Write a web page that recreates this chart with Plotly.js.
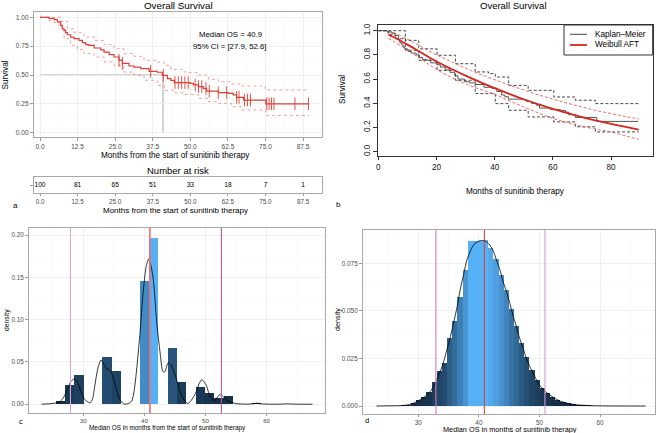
<!DOCTYPE html>
<html><head><meta charset="utf-8">
<script src="https://cdn.plot.ly/plotly-3.0.1.min.js"></script>
<style>html,body{margin:0;padding:0;background:#fff}#chart{width:658px;height:433px}</style>
</head><body><div id="chart"></div>
<script>
// ---------- Panel a: Kaplan-Meier ----------
const kmTime = [0, 3.0, 4.7, 5.8, 6.9, 7.4, 8.0, 8.5, 9.1, 10.2, 11.3, 13.0, 14.1, 15.2, 16.3, 18.0, 20.2, 21.3, 23.0, 24.6, 26.3, 27.4, 29.6, 31.3, 33.5, 36.3, 39.0, 40.7, 42.4, 43.5, 44.7, 49.9, 51.0, 52.7, 54.3, 55.4, 59.3, 62.6, 64.3, 65.4, 67.7, 75.1, 89.3];
const kmSurv = [1.0, 0.99, 0.98, 0.96, 0.93, 0.90, 0.887, 0.867, 0.849, 0.829, 0.815, 0.800, 0.780, 0.763, 0.757, 0.734, 0.718, 0.699, 0.676, 0.656, 0.627, 0.600, 0.578, 0.569, 0.555, 0.532, 0.524, 0.497, 0.468, 0.454, 0.434, 0.428, 0.414, 0.399, 0.384, 0.360, 0.347, 0.341, 0.327, 0.306, 0.283, 0.250, 0.250];
const censorTimes = [26.3, 27.4, 36.8, 41.0, 44.9, 46.0, 47.1, 48.2, 49.3, 51.6, 52.7, 53.8, 55.2, 56.3, 59.3, 62.1, 65.4, 66.2, 68.0, 69.0, 70.0, 75.4, 76.2, 77.0, 77.8, 84.8, 89.3];
const ciUpTime = [0, 4.7, 6.9, 9.1, 11.3, 14.6, 18.0, 21.3, 24.6, 27.9, 31.3, 34.6, 39.0, 41.3, 43.5, 47.9, 49.3, 52.7, 56.0, 59.3, 63.7, 67.1, 74.9, 89.3];
const ciUp = [1.0, 1.0, 0.965, 0.901, 0.867, 0.829, 0.800, 0.763, 0.728, 0.685, 0.662, 0.627, 0.612, 0.584, 0.549, 0.526, 0.520, 0.500, 0.462, 0.442, 0.422, 0.405, 0.370, 0.370];
const ciLoTime = [0, 3.0, 4.7, 6.3, 8.0, 10.2, 12.4, 14.6, 18.0, 21.3, 24.6, 27.9, 31.3, 34.6, 39.0, 41.3, 44.6, 47.9, 52.7, 56.0, 59.3, 63.7, 67.1, 75.1, 89.3];
const ciLo = [1.0, 0.97, 0.955, 0.916, 0.815, 0.757, 0.722, 0.685, 0.656, 0.613, 0.584, 0.526, 0.497, 0.454, 0.410, 0.367, 0.345, 0.330, 0.298, 0.269, 0.255, 0.226, 0.197, 0.150, 0.145];
const medianOS = 40.9;
const ciText = "95% CI = [27.9, 52.6]";
const aXTicks = [0, 12.5, 25, 37.5, 50, 62.5, 75, 87.5];
const aXTickText = ["0.0", "12.5", "25.0", "37.5", "50.0", "62.5", "75.0", "87.5"];
const aYTicks = [0, 0.25, 0.5, 0.75, 1];
const aYTickText = ["0.00", "0.25", "0.50", "0.75", "1.00"];
const riskTimes = [0, 12.5, 25, 37.5, 50, 62.5, 75, 87.5];
const riskCounts = [100, 81, 65, 51, 33, 18, 7, 1];

// ---------- Panel b: KM vs Weibull AFT ----------
const bUpTime = [0, 5.8, 9.3, 13.9, 20.2, 26.5, 33.3, 37.9, 40.2, 44.8, 51.5, 60.3, 67.7, 74.6, 89.5];
const bUp = [1.0, 1.0, 0.92, 0.85, 0.797, 0.727, 0.659, 0.645, 0.617, 0.548, 0.507, 0.452, 0.425, 0.397, 0.397];
const bLoTime = [0, 3.4, 5.8, 9.3, 13.9, 20.2, 26.5, 33.3, 40.2, 44.8, 51.5, 60.3, 67.7, 74.6, 89.5];
const bLo = [1.0, 0.97, 0.934, 0.838, 0.755, 0.672, 0.59, 0.48, 0.397, 0.342, 0.287, 0.246, 0.205, 0.163, 0.163];
const wTime = [3.5, 5, 10, 15, 20, 25, 30, 35, 40, 45, 50, 55, 60, 65, 70, 75, 80, 85, 89.5];
const wSurv = [0.965, 0.950, 0.885, 0.815, 0.745, 0.685, 0.628, 0.575, 0.525, 0.478, 0.433, 0.392, 0.353, 0.318, 0.285, 0.256, 0.229, 0.204, 0.182];
const wUp = [0.99, 0.985, 0.93, 0.865, 0.80, 0.745, 0.69, 0.64, 0.595, 0.55, 0.51, 0.47, 0.435, 0.40, 0.37, 0.34, 0.315, 0.29, 0.27];
const wLo = [0.935, 0.915, 0.84, 0.76, 0.68, 0.615, 0.56, 0.515, 0.475, 0.42, 0.37, 0.32, 0.275, 0.24, 0.21, 0.185, 0.163, 0.13, 0.102];
const bXTicks = [0, 20, 40, 60, 80];
const bXTickText = ["0", "20", "40", "60", "80"];
const bYTicks = [0, 0.2, 0.4, 0.6, 0.8, 1.0];
const bYTickText = ["0.0", "0.2", "0.4", "0.6", "0.8", "1.0"];

// ---------- Panel c: bootstrap medians (KM) ----------
const cBinMid = [23.18, 24.71, 26.24, 27.76, 29.29, 33.88, 35.41, 39.99, 41.52, 44.58, 46.10, 49.16, 50.69, 52.22, 53.75, 58.33, 62.92, 67.50];
const cDensity = [0.0005, 0.0008, 0.0043, 0.0224, 0.0346, 0.0555, 0.0398, 0.1453, 0.1970, 0.0665, 0.0260, 0.0205, 0.0134, 0.0075, 0.0094, 0.0012, 0.0006, 0.0004];
const cBinWidth = 1.528;
const cCurveX = [23.2, 24.5, 25.5, 26.2, 27.0, 27.5, 28.0, 28.5, 29.0, 29.6, 30.2, 30.6, 31.1, 31.5, 31.9, 32.4, 32.9, 33.4, 33.8, 34.4, 34.8, 35.2, 35.6, 36.0, 36.6, 37.3, 37.9, 38.3, 38.7, 39.3, 39.8, 40.3, 40.7, 41.1, 41.5, 42.0, 42.6, 43.0, 43.3, 43.9, 44.3, 44.7, 45.1, 45.5, 45.9, 46.3, 47.1, 47.8, 48.5, 49.0, 49.4, 50.1, 50.5, 50.9, 51.5, 51.9, 52.3, 52.7, 53.1, 53.9, 55.0, 56.5, 57.7, 58.4, 59.2, 60.5, 62.5, 63.3, 64.2, 66.0, 67.5];
const cCurveY = [0.0001, 0.0006, 0.0015, 0.003, 0.011, 0.020, 0.027, 0.030, 0.027, 0.015, 0.006, 0.0035, 0.0016, 0.006, 0.023, 0.043, 0.0524, 0.047, 0.042, 0.040, 0.034, 0.023, 0.013, 0.0055, 0.0004, 0.0006, 0.0035, 0.015, 0.039, 0.086, 0.133, 0.163, 0.1717, 0.163, 0.145, 0.098, 0.059, 0.039, 0.038, 0.049, 0.047, 0.041, 0.033, 0.023, 0.014, 0.0075, 0.0008, 0.006, 0.015, 0.025, 0.029, 0.023, 0.014, 0.0075, 0.0043, 0.008, 0.0114, 0.0105, 0.0075, 0.0035, 0.0008, 0.0002, 0.0005, 0.0012, 0.0004, 0.0001, 0.0002, 0.0006, 0.0002, 0.0001, 0];
const cLines = [27.9, 40.9, 52.6];
const cXTicks = [30, 40, 50, 60];
const cYTicks = [0, 0.05, 0.10, 0.15, 0.20];
const cYTickText = ["0.00", "0.05", "0.10", "0.15", "0.20"];

// ---------- Panel d: bootstrap medians (Weibull) ----------
const dBinMid = [23.27, 24.12, 24.97, 25.82, 26.67, 27.52, 28.37, 29.22, 30.07, 30.92, 31.77, 32.62, 33.47, 34.32, 35.17, 36.02, 36.87, 37.72, 38.57, 39.42, 40.27, 41.12, 41.97, 42.82, 43.67, 44.52, 45.37, 46.22, 47.07, 47.92, 48.77, 49.62, 50.47, 51.32, 52.17, 53.02, 53.87, 54.72, 55.57, 56.42, 57.27, 58.12, 58.97, 59.82, 60.67, 61.52, 62.37, 63.22, 64.07, 64.92, 65.77, 66.62, 67.47];
const dDensity = [0.00002, 0.00003, 0.00006, 0.0001, 0.0002, 0.0003, 0.0007, 0.0016, 0.0030, 0.0046, 0.0072, 0.0125, 0.0186, 0.0228, 0.0357, 0.0445, 0.0575, 0.0715, 0.0866, 0.0866, 0.0868, 0.0874, 0.0830, 0.0775, 0.0690, 0.0610, 0.0508, 0.0420, 0.0330, 0.0255, 0.0190, 0.0138, 0.0095, 0.0068, 0.0048, 0.0033, 0.0022, 0.0015, 0.0010, 0.0006, 0.0004, 0.0003, 0.0002, 0.00012, 0.00008, 0.00005, 0.00003, 0.00002, 0.00001, 0.00001, 0.00001, 0.00001, 0.00001];
const dBinWidth = 0.85;
const dCurveX = [23.1, 25.0, 27.0, 28.1, 29.0, 29.7, 30.5, 31.4, 32.0, 32.5, 33.0, 33.6, 34.2, 34.7, 35.3, 35.8, 36.4, 36.9, 37.5, 38.0, 38.6, 39.1, 39.7, 40.2, 40.6, 41.0, 41.4, 41.8, 42.4, 42.9, 43.5, 44.0, 44.6, 45.1, 45.6, 46.2, 46.7, 47.3, 47.8, 48.4, 49.0, 49.5, 50.0, 50.6, 51.1, 51.7, 52.5, 53.4, 54.2, 55.0, 56.0, 57.2, 58.5, 60.0, 62.0, 64.0, 67.5];
const dCurveY = [0, 0.0001, 0.0002, 0.0005, 0.0012, 0.0023, 0.0037, 0.0058, 0.0078, 0.0102, 0.0135, 0.018, 0.0235, 0.0294, 0.0365, 0.0434, 0.052, 0.061, 0.0695, 0.0767, 0.0815, 0.0846, 0.0862, 0.0869, 0.0870, 0.0867, 0.0859, 0.0846, 0.0812, 0.0767, 0.0712, 0.0653, 0.0595, 0.054, 0.0478, 0.0417, 0.0358, 0.0303, 0.0253, 0.0207, 0.0170, 0.0137, 0.0110, 0.0089, 0.0072, 0.0058, 0.0041, 0.0026, 0.0018, 0.0012, 0.0007, 0.0004, 0.0002, 0.0001, 0.00003, 0.00001, 0];
const dLines = [32.9, 40.9, 50.9];
const dXTicks = [30, 40, 50, 60];
const dYTicks = [0, 0.025, 0.05, 0.075];
const dYTickText = ["0.000", "0.025", "0.050", "0.075"];

// ---------- helpers ----------
const W = 658, H = 433;
const px = v => v / W;
const py = v => 1 - v / H;
const FONT = "Liberation Sans, Arial, Helvetica, sans-serif";

function hex2rgb(h){return [parseInt(h.slice(1,3),16),parseInt(h.slice(3,5),16),parseInt(h.slice(5,7),16)];}
function rgb2lab(c){
  const f=v=>{v/=255;return v<=0.04045?v/12.92:Math.pow((v+0.055)/1.055,2.4);};
  const R=f(c[0]),G=f(c[1]),B=f(c[2]);
  const X=(0.4124*R+0.3576*G+0.1805*B)/0.95047, Y=0.2126*R+0.7152*G+0.0722*B, Z=(0.0193*R+0.1192*G+0.9505*B)/1.08883;
  const g=t=>t>0.008856?Math.cbrt(t):7.787*t+16/116;
  const fx=g(X),fy=g(Y),fz=g(Z);
  return [116*fy-16,500*(fx-fy),200*(fy-fz)];
}
function lab2rgb(l){
  const fy=(l[0]+16)/116, fx=fy+l[1]/500, fz=fy-l[2]/200;
  const gi=t=>{const t3=t*t*t;return t3>0.008856?t3:(t-16/116)/7.787;};
  const X=gi(fx)*0.95047,Y=gi(fy),Z=gi(fz)*1.08883;
  const R=3.2406*X-1.5372*Y-0.4986*Z, G=-0.9689*X+1.8758*Y+0.0415*Z, B=0.0557*X-0.2040*Y+1.0570*Z;
  const f=v=>{v=v<=0.0031308?12.92*v:1.055*Math.pow(v,1/2.4)-0.055;return Math.round(Math.max(0,Math.min(1,v))*255);};
  return 'rgb('+f(R)+','+f(G)+','+f(B)+')';
}
const LOW = rgb2lab(hex2rgb('#132B43')), HIGH = rgb2lab(hex2rgb('#56B1F7'));
function grad(t){return lab2rgb([0,1,2].map(i=>LOW[i]+(HIGH[i]-LOW[i])*t));}
function fillColors(vals){const m=Math.max(...vals);return vals.map(v=>grad(v/m));}
function stepAt(t){let s=kmSurv[0];for(let i=0;i<kmTime.length;i++){if(kmTime[i]<=t)s=kmSurv[i];}return s;}

const KMRED = '#E03E36';
const traces = [];
// a
traces.push({x:ciUpTime,y:ciUp,xaxis:'x',yaxis:'y',mode:'lines',line:{color:'#EE8A84',width:0.8,dash:'dot',shape:'hv'},showlegend:false,hoverinfo:'skip'});
traces.push({x:ciLoTime,y:ciLo,xaxis:'x',yaxis:'y',mode:'lines',line:{color:'#EE8A84',width:0.8,dash:'dot',shape:'hv'},showlegend:false,hoverinfo:'skip'});
traces.push({x:kmTime,y:kmSurv,xaxis:'x',yaxis:'y',mode:'lines',line:{color:KMRED,width:1.2,shape:'hv'},showlegend:false});
traces.push({x:censorTimes,y:censorTimes.map(stepAt),xaxis:'x',yaxis:'y',mode:'markers',marker:{symbol:'line-ns-open',size:9,color:KMRED,line:{color:KMRED,width:0.9}},showlegend:false});
// risk table
traces.push({x:riskTimes,y:riskTimes.map(()=>0.5),text:riskCounts.map(String),xaxis:'x2',yaxis:'y2',mode:'text',textfont:{size:6.6,color:'#000',family:FONT},showlegend:false});
// b
traces.push({x:bUpTime,y:bUp,xaxis:'x3',yaxis:'y3',mode:'lines',line:{color:'#333',width:0.9,dash:'3px,2px',shape:'hv'},showlegend:false});
traces.push({x:bLoTime,y:bLo,xaxis:'x3',yaxis:'y3',mode:'lines',line:{color:'#333',width:0.9,dash:'3px,2px',shape:'hv'},showlegend:false});
traces.push({x:kmTime,y:kmSurv,xaxis:'x3',yaxis:'y3',mode:'lines',line:{color:'#444',width:0.9,shape:'hv'},showlegend:false});
traces.push({x:wTime,y:wUp,xaxis:'x3',yaxis:'y3',mode:'lines',line:{color:'#EA5A55',width:0.9,dash:'3px,2px',shape:'spline'},showlegend:false});
traces.push({x:wTime,y:wLo,xaxis:'x3',yaxis:'y3',mode:'lines',line:{color:'#EA5A55',width:0.9,dash:'3px,2px',shape:'spline'},showlegend:false});
traces.push({x:wTime,y:wSurv,xaxis:'x3',yaxis:'y3',mode:'lines',line:{color:'#D7261E',width:1.8,shape:'spline'},showlegend:false});
// c
traces.push({type:'bar',x:cBinMid,y:cDensity,width:cBinWidth,xaxis:'x4',yaxis:'y4',marker:{color:fillColors(cDensity),line:{width:0}},showlegend:false});
traces.push({x:cCurveX,y:cCurveY,xaxis:'x4',yaxis:'y4',mode:'lines',line:{color:'#000',width:0.8,shape:'spline',smoothing:0.7},showlegend:false});
// d
traces.push({type:'bar',x:dBinMid,y:dDensity,width:dBinWidth,xaxis:'x5',yaxis:'y5',marker:{color:fillColors(dDensity),line:{width:0}},showlegend:false});
traces.push({x:dCurveX,y:dCurveY,xaxis:'x5',yaxis:'y5',mode:'lines',line:{color:'#000',width:0.8,shape:'spline',smoothing:0.7},showlegend:false});

const GRID='#EBEBEB', MINOR='#F5F5F5';
function ggAxis(o){
  return Object.assign({showline:true,mirror:true,zeroline:false,automargin:false,ticks:'outside',ticklen:3,
    tickcolor:'#9A9A9A',linecolor:'#A8A8A8',linewidth:1,showgrid:true,gridcolor:GRID,gridwidth:0.7,
    tickfont:{size:6.6,color:'#4D4D4D',family:FONT},tickmode:'array',fixedrange:true},o);
}
const layout = {
  width:W,height:H,margin:{l:0,r:0,t:0,b:0},paper_bgcolor:'#fff',plot_bgcolor:'rgba(0,0,0,0)',
  font:{family:FONT,color:'#000'},showlegend:false,bargap:0,
  xaxis:ggAxis({domain:[px(34),px(322)],range:[-2.0,93.8],anchor:'y',tickvals:aXTicks,ticktext:aXTickText,
    minor:{tickmode:'linear',tick0:0,dtick:6.25,showgrid:true,gridcolor:MINOR,gridwidth:0.5}}),
  yaxis:ggAxis({domain:[py(137.3),py(12)],range:[-0.04,1.046],anchor:'x',tickvals:aYTicks,ticktext:aYTickText,
    minor:{tickmode:'linear',tick0:0,dtick:0.125,showgrid:true,gridcolor:MINOR,gridwidth:0.5}}),
  xaxis2:ggAxis({domain:[px(34),px(322)],range:[-2.0,93.8],anchor:'y2',tickvals:aXTicks,ticktext:aXTickText,gridcolor:'#F2F2F2',
    ticklen:2,tickfont:{size:6.3,color:'#4D4D4D',family:FONT}}),
  yaxis2:ggAxis({domain:[py(193),py(177)],range:[0,1],anchor:'x2',tickvals:[0.5],ticktext:[''],showgrid:false}),
  xaxis3:{domain:[px(378.3),px(652.7)],range:[0,94.3],anchor:'y3',tickmode:'array',tickvals:bXTicks,ticktext:bXTickText,
    showline:true,mirror:true,linecolor:'#333',linewidth:1,ticks:'outside',ticklen:3,tickcolor:'#333',showgrid:false,zeroline:false,automargin:false,
    tickfont:{size:8.2,color:'#111',family:FONT},fixedrange:true},
  yaxis3:{domain:[py(156),py(25)],range:[-0.036,1.047],anchor:'x3',tickmode:'array',tickvals:bYTicks,ticktext:bYTickText,tickangle:-90,
    showline:true,mirror:true,linecolor:'#333',linewidth:1,ticks:'outside',ticklen:4,tickcolor:'#333',showgrid:false,zeroline:false,automargin:false,
    tickfont:{size:8.2,color:'#111',family:FONT},fixedrange:true},
  xaxis4:ggAxis({domain:[px(29),px(325)],range:[21.11,69.56],anchor:'y4',tickvals:cXTicks,ticktext:cXTicks.map(String),
    ticklen:2,tickfont:{size:6.2,color:'#4D4D4D',family:FONT},
    minor:{tickmode:'linear',tick0:0,dtick:5,showgrid:true,gridcolor:MINOR,gridwidth:0.5}}),
  yaxis4:ggAxis({domain:[py(413),py(228)],range:[-0.0103,0.2083],anchor:'x4',tickvals:cYTicks,ticktext:cYTickText,
    tickfont:{size:6.3,color:'#4D4D4D',family:FONT},
    minor:{tickmode:'linear',tick0:0,dtick:0.025,showgrid:true,gridcolor:MINOR,gridwidth:0.5}}),
  xaxis5:ggAxis({domain:[px(363),px(655)],range:[20.87,69.06],anchor:'y5',tickvals:dXTicks,ticktext:dXTicks.map(String),
    ticklen:2,tickfont:{size:6.4,color:'#4D4D4D',family:FONT},
    minor:{tickmode:'linear',tick0:0,dtick:5,showgrid:true,gridcolor:MINOR,gridwidth:0.5}}),
  yaxis5:ggAxis({domain:[py(414),py(230)],range:[-0.0042,0.0925],anchor:'x5',tickvals:dYTicks,ticktext:dYTickText,
    tickfont:{size:6.4,color:'#4D4D4D',family:FONT},
    minor:{tickmode:'linear',tick0:0,dtick:0.0125,showgrid:true,gridcolor:MINOR,gridwidth:0.5}}),
  shapes:[],annotations:[]
};
// median guide lines (panel a)
layout.shapes.push({type:'line',xref:'x',yref:'y',x0:0,x1:medianOS,y0:0.5,y1:0.5,line:{color:'#A6A6A6',width:1},layer:'below'});
layout.shapes.push({type:'line',xref:'x',yref:'y',x0:medianOS,x1:medianOS,y0:0,y1:0.5,line:{color:'#A6A6A6',width:1},layer:'below'});
// vertical reference lines c, d
const cLineColors=['#D6A3D2','#EF6F6A','#A65AA3'], dLineColors=['#D27CC3','#D8403C','#D59AD3'];
cLines.forEach((v,i)=>layout.shapes.push({type:'line',xref:'x4',yref:'y4 domain',x0:v,x1:v,y0:0,y1:1,line:{color:cLineColors[i],width:i===1?1.6:1.1}}));
dLines.forEach((v,i)=>layout.shapes.push({type:'line',xref:'x5',yref:'y5 domain',x0:v,x1:v,y0:0,y1:1,line:{color:dLineColors[i],width:1.1}}));
// legend panel b
layout.shapes.push({type:'rect',xref:'paper',yref:'paper',x0:px(564),x1:px(652.7),y0:py(55),y1:py(25),line:{color:'#333',width:1},fillcolor:'#fff'});
layout.shapes.push({type:'line',xref:'paper',yref:'paper',x0:px(570),x1:px(587),y0:py(34.3),y1:py(34.3),line:{color:'#444',width:1}});
layout.shapes.push({type:'line',xref:'paper',yref:'paper',x0:px(570),x1:px(587),y0:py(45),y1:py(45),line:{color:'#D7261E',width:1.8}});

function ann(text,x,y,size,opt){
  layout.annotations.push(Object.assign({text:text,xref:'paper',yref:'paper',x:px(x),y:py(y),xanchor:'center',yanchor:'middle',
    showarrow:false,font:{size:size,color:'#000',family:FONT}},opt||{}));
}
ann('Overall Survival',178,5.5,9.8);
ann('Median OS = '+medianOS.toFixed(1),230,34,7.8);
ann(ciText,229,46,7.8);
ann('Survival',4.5,75,8.2,{textangle:-90});
ann('Months from the start of sunitinib therapy',175,155.5,8.2);
ann('Number at risk',178,170,9.5);
ann('Months from the start of sunitinib therapy',175,210.5,8.0);
ann('a',15,206,8);
ann('Overall Survival',513,5.5,9.5);
ann('Survival',343,90,8.2,{textangle:-90});
ann('Months of sunitinib therapy',515,191.5,8.2);
ann('b',338,204,8);
ann('Kaplan–Meier',593,34.3,8.2,{xanchor:'left'});
ann('Weibull AFT',593,45,8.2,{xanchor:'left'});
ann('density',7,320,6.8,{textangle:-90});
ann('Median OS in months from the start of sunitinib therapy',167,428.3,6.4);
ann('c',20.7,421,7.5);
ann('density',337,320,7.2,{textangle:-90});
ann('Median OS in months of sunitinib therapy',510,429,7.3);
ann('d',367,420,7.5);

Plotly.newPlot('chart',traces,layout,{staticPlot:true,displayModeBar:false});
</script></body></html>
